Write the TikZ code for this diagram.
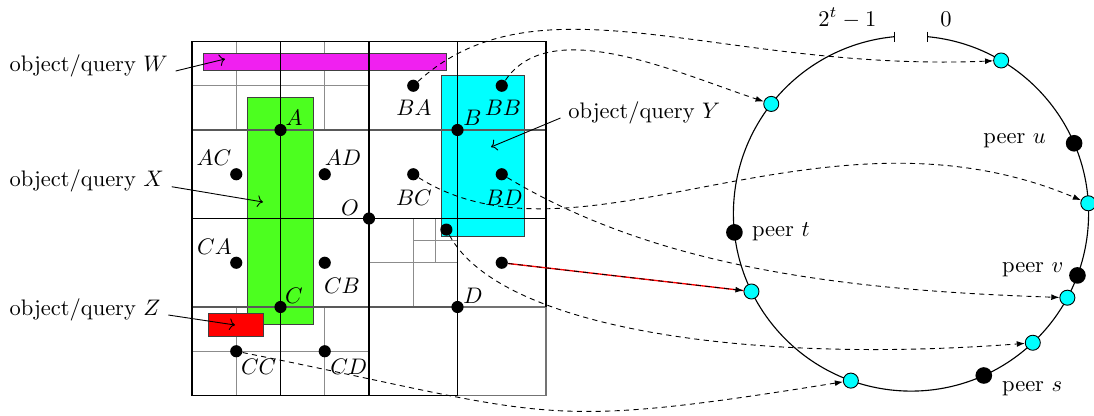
\documentclass[tikz,border=0pt]{standalone}
\usetikzlibrary{arrows.meta}
\definecolor{qmag}{RGB}{240,32,240}
\definecolor{qgreen}{RGB}{76,255,31}
\definecolor{qcyan}{RGB}{0,255,255}
\definecolor{qred}{RGB}{255,0,0}
\begin{document}
\begin{tikzpicture}[x=0.445pt,y=-0.445pt]
\tikzset{
 gridA/.style={line width=0.75pt, black},
 gridB/.style={line width=0.6pt, black},
 gridBh/.style={line width=0.6pt, black!65},
 gridC/.style={line width=0.5pt, black!45},
 gdot/.style={circle, fill=black, inner sep=0pt, minimum size=5.4pt},
 cdot/.style={circle, fill=qcyan, draw=black, line width=0.4pt, inner sep=0pt, minimum size=6.7pt},
 pdot/.style={circle, fill=black, inner sep=0pt, minimum size=7.4pt},
 lbl/.style={inner sep=0pt},
 link/.style={dash pattern=on 2.3pt off 1.9pt, line width=0.4pt, -{Latex[length=3.6pt,width=2.6pt]}},
 qarrow/.style={->, line width=0.4pt},
 qbox/.style={draw=black!75, line width=0.4pt},
 ringline/.style={line width=0.5pt, black},
}
\useasboundingbox (0,0) rectangle (1094,415);

% fine (gray) subdivisions
\draw[gridC] (236.25,41.5) -- (236.25,130) (324.75,41.5) -- (324.75,130) (192,85.75) -- (369,85.75);
\draw[gridC] (236.25,307) -- (236.25,395.5) (324.75,307) -- (324.75,395.5) (192,351.25) -- (369,351.25);
\draw[gridC] (413.25,218.5) -- (413.25,307) (369,262.75) -- (457.5,262.75)
  (435.4,218.5) -- (435.4,262.75) (413.25,240.6) -- (457.5,240.6);

% objects / queries
\filldraw[qbox, fill=qmag] (203,53) rectangle (446,70);
\filldraw[qbox, fill=qgreen] (247,97) rectangle (313,324.5);
\filldraw[qbox, fill=qcyan] (441,75) rectangle (524,236.5);
\filldraw[qbox, fill=qred] (208,313.5) rectangle (263.5,336);

% main grid lines
\draw[gridBh] (192,130) -- (546,130) (192,307) -- (457.5,307);
\draw[gridC, black!55, line width=0.6pt] (457.5,307) -- (546,307) -- (546,395.5) -- (457.5,395.5);
\draw[gridB] (280.5,41.5) -- (280.5,395.5) (457.5,41.5) -- (457.5,395.5);
\draw[gridA] (457.5,395.5) -- (192,395.5) -- (192,41.5) -- (546,41.5) -- (546,307);
\draw[gridA] (369,41.5) -- (369,395.5) (192,218.5) -- (546,218.5);

% grid points
\node[gdot] (A) at (280.5,130) {};
\node[gdot] (B) at (457.5,130) {};
\node[gdot] (C) at (280.5,307) {};
\node[gdot] (D) at (457.5,307) {};
\node[gdot] (O) at (369,218.5) {};
\node[gdot] (AC) at (236.25,174.25) {};
\node[gdot] (AD) at (324.75,174.25) {};
\node[gdot] (BA) at (413.25,85.75) {};
\node[gdot] (BB) at (501.75,85.75) {};
\node[gdot] (BC) at (413.25,174.25) {};
\node[gdot] (BD) at (501.75,174.25) {};
\node[gdot] (CA) at (236.25,262.75) {};
\node[gdot] (CB) at (324.75,262.75) {};
\node[gdot] (CC) at (236.25,351.25) {};
\node[gdot] (CD) at (324.75,351.25) {};
\node[gdot] (DAs) at (446.4,229.6) {};
\node[gdot] (DB) at (501.75,262.75) {};

% grid point labels
\node[lbl] (tA) at (294,117.5) {$A$};
\node[lbl] (tB) at (472.5,117.5) {$B$};
\node[lbl] (tC) at (294,295.5) {$C$};
\node[lbl] (tD) at (473,295.5) {$D$};
\node[lbl] (tO) at (350,207.5) {$O$};
\node[lbl] (tAC) at (214,157.5) {$AC$};
\node[lbl] (tAD) at (343,157.5) {$AD$};
\node[lbl] (tBA) at (414,107.5) {$BA$};
\node[lbl] (tBB) at (503,107.5) {$BB$};
\node[lbl] (tBC) at (414,197.5) {$BC$};
\node[lbl] (tBD) at (504,197.5) {$BD$};
\node[lbl] (tCA) at (214.5,247) {$CA$};
\node[lbl] (tCB) at (342,285.5) {$CB$};
\node[lbl] (tCC) at (258.7,366.5) {$CC$};
\node[lbl] (tCD) at (348.7,366.5) {$CD$};

% object labels
\node[anchor=base west] (lW) at (1.8,71) {object/query $W$};
\node[anchor=base west] (lX) at (1.8,186.7) {object/query $X$};
\node[anchor=base west] (lZ) at (1.8,315) {object/query $Z$};
\node[anchor=base west] (lY) at (560.5,118) {object/query $Y$};
\coordinate (pW) at (225,59);
\coordinate (pX) at (263,202);
\coordinate (pY) at (491,147);
\coordinate (pZ) at (235,325);
\draw[qarrow] (lW.base east) -- (pW);
\draw[qarrow] (lX.base east) -- (pX);
\draw[qarrow] (lZ.base east) -- (pZ);
\draw[qarrow] (lY.base west) -- (pY);

% ring
\coordinate (ring) at (911,213.5);
\coordinate (g1) at ([shift={(275.27:177.6)}]ring);
\coordinate (g2) at ([shift={(264.73:177.6)}]ring);
\draw[ringline] (g1) arc[start angle=275.27, end angle=624.73, radius=177.6];
\draw[ringline] (g1) ++(0,-5) -- ++(0,10);
\draw[ringline] (g2) ++(0,-5) -- ++(0,10);
\node[anchor=base west] (lmax) at (810.5,26) {$2^t-1$};
\node[anchor=base west] (lzero) at (932.5,26) {$0$};

\node[cdot] (c1) at ([shift={(300.5:177.6)}]ring) {};
\node[cdot] (c2) at ([shift={(218.1:177.6)}]ring) {};
\node[cdot] (c3) at ([shift={(356.7:177.6)}]ring) {};
\node[cdot] (c4) at ([shift={(153.95:177.6)}]ring) {};
\node[cdot] (c5) at ([shift={(28.3:177.6)}]ring) {};
\node[cdot] (c6) at ([shift={(46.7:177.6)}]ring) {};
\node[cdot] (c7) at ([shift={(109.8:177.6)}]ring) {};

\node[pdot] (pu) at ([shift={(336.7:177.6)}]ring) {};
\node[pdot] (pt) at ([shift={(173.9:177.6)}]ring) {};
\node[pdot] (pv) at ([shift={(20.4:177.6)}]ring) {};
\node[pdot] (ps) at ([shift={(65.8:177.6)}]ring) {};
\node[anchor=base west] (lu) at (975.5,143) {peer $u$};
\node[anchor=base west] (lt) at (744.2,236.7) {peer $t$};
\node[anchor=base west] (lv) at (994.2,272.7) {peer $v$};
\node[anchor=base west] (ls) at (994.2,391.7) {peer $s$};

% mappings
\draw[link] (BA) .. controls +(127,-115) and +(-280.7,12) .. (c1);
\draw[link] (BB) .. controls +(48.3,-72) and +(-93.3,-30.7) .. (c2);
\draw[link] (BC) .. controls +(167,105) and +(-268,-113) .. (c3);
\draw[link] (BD) .. controls +(158.3,95) and +(-216.7,-7.3) .. (c5);
\draw[link] (DAs) .. controls +(54,99.3) and +(-283.3,21.7) .. (c6);
\draw[link] (CC) .. controls +(320,64) and +(-320,51.2) .. (c7);
\draw[qred, line width=0.6pt] (DB) -- (c4);
\draw[link] (DB) -- (c4);
\end{tikzpicture}
\end{document}
